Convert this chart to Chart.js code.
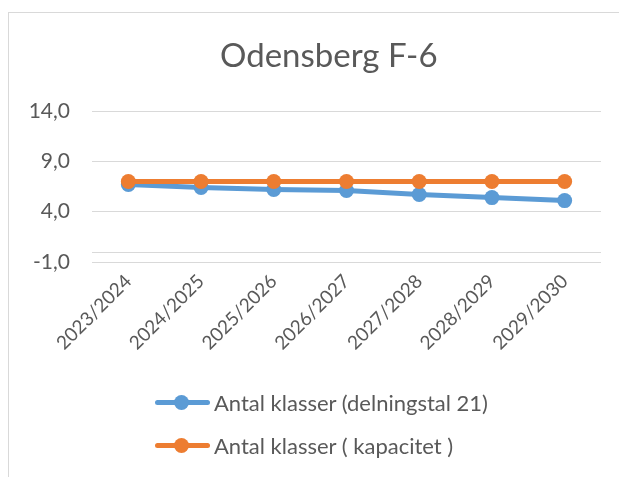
<!DOCTYPE html>
<html>
<head>
<meta charset="utf-8">
<script src="https://cdn.jsdelivr.net/npm/chart.js@4.4.1/dist/chart.umd.min.js"></script>
<style>
  html, body { margin: 0; padding: 0; background: #ffffff; }
  #wrap { position: relative; width: 619px; height: 477px; overflow: hidden; background: #ffffff; }
  #frame { position: absolute; left: 8px; top: 12px; width: 700px; height: 600px; border: 1px solid #d9d9d9; }
  #chart { position: absolute; left: 0; top: 0; }
  #title { position: absolute; left: 220px; width: 200px; top: 34px; text-align: center; white-space: nowrap;
           font-family: Lato, sans-serif; font-size: 33px; line-height: 40px; color: #595959; }
  .legend { position: absolute; left: 155px; font-family: Lato, sans-serif; font-size: 22px; color: #595959; }
  .legend-item { position: relative; height: 43px; line-height: 43px; padding-left: 59px; white-space: nowrap; }
  .legend-line { position: absolute; left: 0; top: 19px; width: 55px; height: 5px; border-radius: 3px; }
  .legend-dot { position: absolute; left: 19px; top: 14px; width: 15px; height: 15px; border-radius: 50%; }
</style>
</head>
<body>
<div id="wrap">
  <div id="frame"></div>
  <canvas id="chart" width="619" height="477"></canvas>
  <div id="title"></div>
  <div class="legend" id="legend" style="top: 381px;"></div>
</div>
<script>
const chartTitle = "Odensberg F-6";
const years = ["2023/2024", "2024/2025", "2025/2026", "2026/2027", "2027/2028", "2028/2029", "2029/2030"];
const klasserDelningstal = [6.7, 6.4, 6.2, 6.1, 5.7, 5.4, 5.1];
const klasserKapacitet = [7.0, 7.0, 7.0, 7.0, 7.0, 7.0, 7.0];
const yTicks = [-1, 4, 9, 14];

const blue = "#5b9bd5";
const orange = "#ed7d31";
const textColor = "#595959";
const gridColor = "#d9d9d9";

// horizontal axis line at value 0, like the original
const zeroLine = {
  id: "zeroLine",
  beforeDatasetsDraw(chart) {
    const { ctx, chartArea, scales } = chart;
    const y = Math.round(scales.y.getPixelForValue(0)) + 0.5;
    ctx.save();
    ctx.strokeStyle = gridColor;
    ctx.lineWidth = 1;
    ctx.beginPath();
    ctx.moveTo(chartArea.left, y);
    ctx.lineTo(chartArea.right, y);
    ctx.stroke();
    ctx.restore();
  }
};

const datasets = [
  {
    label: "Antal klasser (delningstal 21)",
    data: klasserDelningstal,
    borderColor: blue,
    backgroundColor: blue,
    order: 1
  },
  {
    label: "Antal klasser ( kapacitet )",
    data: klasserKapacitet,
    borderColor: orange,
    backgroundColor: orange,
    order: 0
  }
];

new Chart(document.getElementById("chart"), {
  type: "line",
  data: {
    labels: years,
    datasets: datasets.map(ds => ({
      ...ds,
      borderWidth: 5,
      pointRadius: 7.5,
      pointHoverRadius: 7.5,
      pointBorderWidth: 0,
      tension: 0
    }))
  },
  options: {
    responsive: false,
    animation: false,
    layout: { padding: { left: 0, right: 18, top: 111, bottom: 115 } },
    plugins: {
      legend: { display: false },
      tooltip: { enabled: false },
      title: { display: false }
    },
    scales: {
      x: {
        offset: true,
        grid: { display: false },
        border: { display: false },
        afterFit(scale) { scale.height = 100; },
        ticks: {
          color: textColor,
          font: { family: "Lato", size: 19 },
          minRotation: 45,
          maxRotation: 45,
          padding: 0
        }
      },
      y: {
        min: -1,
        max: 14,
        afterBuildTicks(scale) { scale.ticks = yTicks.map(v => ({ value: v })); },
        afterFit(scale) { scale.width = 92; },
        grid: { color: gridColor, drawTicks: false },
        border: { display: false },
        ticks: {
          color: textColor,
          font: { family: "Lato", size: 21 },
          padding: 22,
          callback: v => v.toFixed(1).replace(".", ",")
        }
      }
    }
  },
  plugins: [zeroLine]
});

document.getElementById("title").textContent = chartTitle;
document.getElementById("legend").innerHTML = datasets.map(ds => `
  <div class="legend-item">
    <span class="legend-line" style="background:${ds.borderColor}"></span>
    <span class="legend-dot" style="background:${ds.borderColor}"></span>
    ${ds.label}
  </div>
`).join("");
</script>
</body>
</html>
